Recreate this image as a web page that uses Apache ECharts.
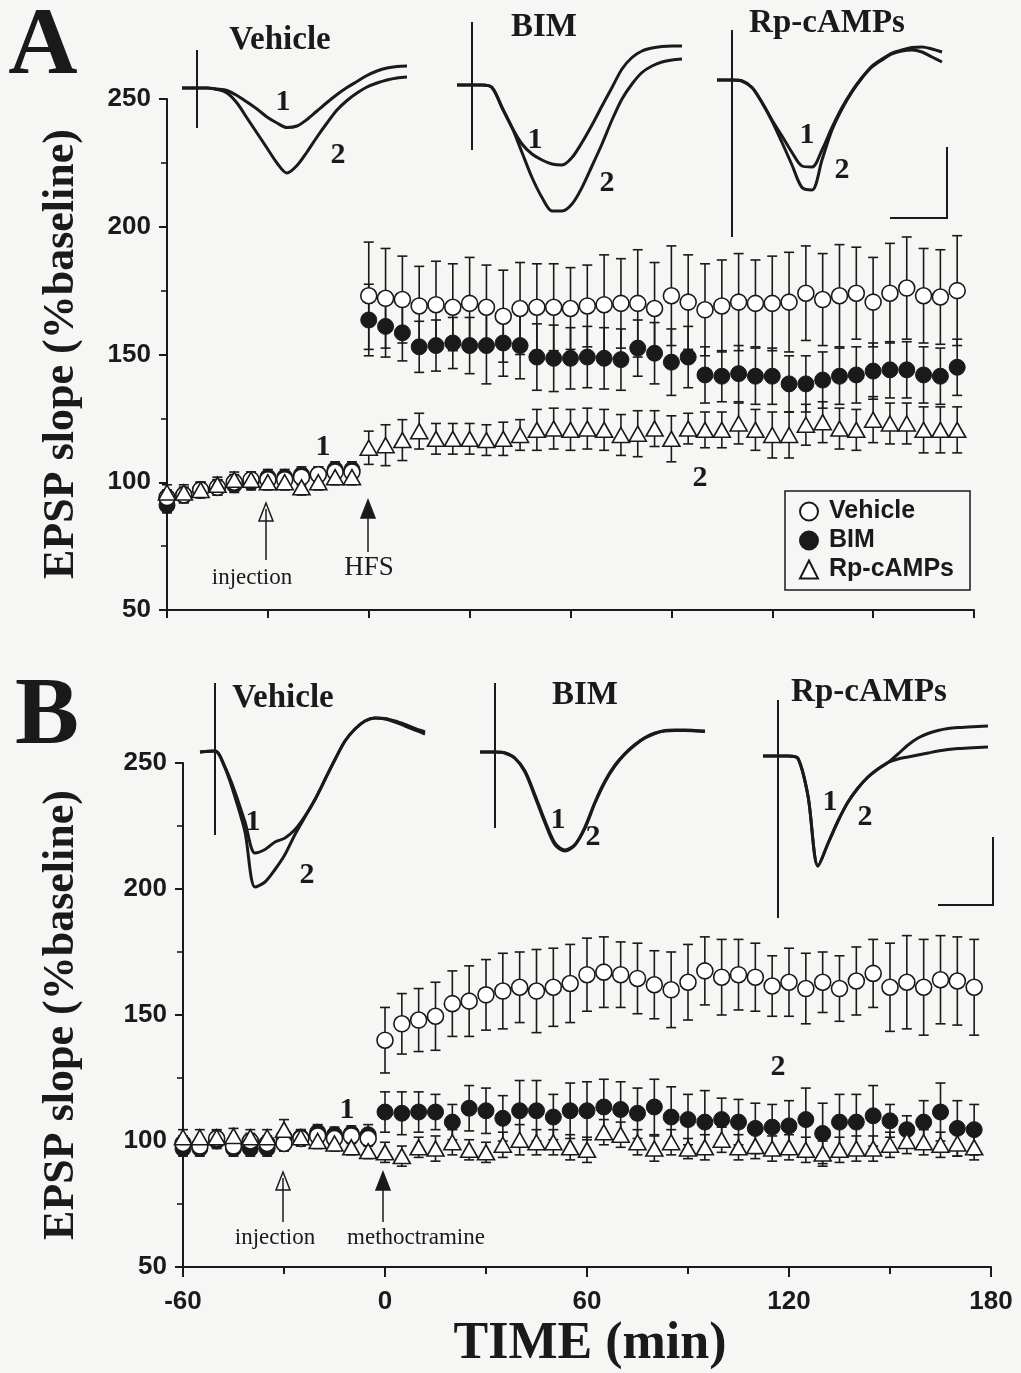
<!DOCTYPE html>
<html><head><meta charset="utf-8">
<script src="https://cdn.jsdelivr.net/npm/echarts@6/dist/echarts.min.js"></script>
<style>html,body{margin:0;padding:0;background:#f6f6f4}#c{width:1021px;height:1373px}</style>
</head><body><div id="c"></div>
<script>
// ---------- DATA ----------
const times = [-60,-55,-50,-45,-40,-35,-30,-25,-20,-15,-10,-5,0,5,10,15,20,25,30,35,40,45,50,55,60,65,70,75,80,85,90,95,100,105,110,115,120,125,130,135,140,145,150,155,160,165,170,175];
const seriesNames = ['Vehicle','BIM','Rp-cAMPs'];
const xTickLabels = [-60, 0, 60, 120, 180];
const yTickLabels = [50, 100, 150, 200, 250];

// Panel A (HFS)
const vehA = [94,95,97,98,100,101,101,101,102,103,104,104, 173,172,171.5,169,169.5,168.5,170,168.5,165,168,168.5,168.5,168,169,169.5,170,170,168,173,170.5,167.5,169,170.5,170,170,170.5,174,171.5,173,174,170.5,174,176,173,172.5,175];
const vehAErr = [3,3,3,3,3,3,3,3,3,3,3,3, 21,19.5,17,15.5,17,17,18,16.5,18,18,17,17,16,16,19.5,17.5,21,18,19.5,18.5,18,18,19,17,18.5,19.5,18.5,18,20,18,17.5,19.5,20,18.5,18.5,21.5];
const bimA = [91,95,97,98,99,100,102,102,103,103,105,105, 163.5,161,158.5,153,153.5,154.5,153.5,153.5,154.5,153.5,149,148.5,148.5,149,148.5,148,152.5,150.5,147,149,142,141.5,142.5,141.5,141.5,138.5,138.5,140,141.5,142,143.5,144,144,142,141.5,145];
const bimAErr = [3,3,3,3,3,3,3,3,3,3,3,3, 14,12,11,10,10,10,11,15,13,13,13,13,12,12,12,12,11,12,13,12,11,10,11,11,11,11,11,11,11,11,11,11,11,11,11,11];
const rpA = [96,96,97,99,101,101,100,100,98,100,102,102, 113.5,114.5,116.5,120,117,117,117,116.5,117,118.5,120.5,121,120.5,121,120.5,118.5,119,121,117,121,120.5,120.5,123,120.5,118.5,118.5,122.5,123.5,121,120.5,124.5,123,123,120.5,120.5,120.5];
const rpAErr = [3,3,3,3,3,3,3,3,3,3,3,3, 6.5,8,8,7,6,6,6,6,6.5,6,8,8,8,8,8,8,9,7,9,6,7,7,8,8,9,9,8,8,8,8,9,8,8,9,9,9];

// Panel B (methoctramine)
const vehB = [99,98,101,98,100,99,99,101,102,101,102,101, 140,146.5,148,149.5,154.5,155.5,158,159.5,161,159.5,161,162.5,166,167,166,164.5,162,160,163,167.5,165,166,165,161.5,163,160.5,163,160.5,163.5,166.5,161,163,161,164,163.5,161];
const vehBErr = [3,3,3,3,3,3,3,3,3,3,3,3, 13,12,12.5,13.5,13,14,14,15,14,16.5,15.5,15.5,14.5,14,13,14,13.5,15,15,13.5,15,14,13.5,12,13.5,14,12,13,13.5,13.5,17.5,18.5,19,17.5,17.5,19];
const bimB = [97,97,100,97,97,97,101.5,101.5,103.5,102.5,103,102.5, 111.5,111,111.5,111.5,107.5,113,112,109,112,112,109.5,112,112,113.5,112.5,111,113.5,109.5,108.5,107.5,108.5,107.5,105,105.5,106,108.5,103,107.5,107.5,110,108,104.5,107.5,111.5,105,104.5];
const bimBErr = [3,3,3,3,3,3,3,3,3,3,3,4, 8,8.5,8,7,7,9,9,9,12,12,9,11,11.5,11,11,10,11,12,10,12.5,8.5,9,10,9,10,12.5,12,11,11,12,6.5,5.5,8.5,11.5,11,10];
const rpB = [101.5,101.5,101.5,102,101.5,101.5,104.5,101.5,100,99,97.5,96, 95.5,94,97.5,97,99.5,96.5,95.5,98.5,100.5,99.5,99.5,97.5,96.5,103.5,102.5,99.5,97,99.5,97,97.5,100.5,97.5,98,97,97.5,96.5,95,96.5,97,97,98.5,100,99.5,98.5,99,97.5];
const rpBErr = [3,3,3,3,3,3,4,3,3,3,3,3, 4,4,4,5,5,4,4,5,6,5, 5,5,5,5,5,5,5,5,4,5, 5,5,5,5,5,5,5,5,5,5, 5,5,5,5,5,5];

// Inset EPSP traces (ms, mV; 1 = before, 2 = after)
const traceT = [-1.5,0,1,2,3,4,5,6,7,8,9,10,11,12,13,14,15,16,17,18,19,20,21];
const aVeh1 = [0,0,0,-0.02,-0.05,-0.15,-0.28,-0.42,-0.58,-0.7,-0.79,-0.76,-0.63,-0.46,-0.29,-0.13,0.01,0.13,0.25,0.34,0.4,0.43,0.44];
const aVeh2 = [0,0,0,-0.03,-0.1,-0.3,-0.6,-0.9,-1.2,-1.5,-1.7,-1.55,-1.28,-0.98,-0.7,-0.44,-0.25,-0.1,0.02,0.1,0.16,0.2,0.22];
const aBim1 = [0,0,0,-0.05,-0.45,-0.85,-1.18,-1.38,-1.5,-1.58,-1.6,-1.45,-1.15,-0.8,-0.42,-0.05,0.32,0.55,0.68,0.74,0.77,0.78,0.78];
const aBim2 = [0,0,0,-0.05,-0.45,-0.85,-1.35,-1.85,-2.25,-2.52,-2.52,-2.38,-2.05,-1.62,-1.18,-0.7,-0.28,0.02,0.25,0.38,0.46,0.5,0.52];
const aRp1 = [0,0,-0.02,-0.15,-0.45,-0.8,-1.12,-1.45,-1.72,-1.74,-1.4,-0.95,-0.55,-0.22,0.05,0.28,0.42,0.54,0.6,0.65,0.66,0.62,0.56];
const aRp2 = [0,0,-0.02,-0.15,-0.45,-0.82,-1.25,-1.7,-2.15,-2.2,-1.6,-1.0,-0.58,-0.24,0.04,0.26,0.4,0.52,0.58,0.6,0.56,0.46,0.36];
const bVeh1 = [0,0.02,-0.3,-0.8,-1.4,-2.02,-1.95,-1.8,-1.72,-1.55,-1.28,-0.95,-0.55,-0.15,0.22,0.46,0.62,0.68,0.66,0.6,0.52,0.44,0.36];
const bVeh2 = [0,0.02,-0.32,-0.9,-1.6,-2.7,-2.6,-2.35,-2.05,-1.65,-1.3,-0.95,-0.55,-0.15,0.22,0.46,0.62,0.68,0.67,0.62,0.55,0.47,0.4];
const bBim1 = [0,0,-0.02,-0.12,-0.38,-0.86,-1.38,-1.82,-1.96,-1.85,-1.52,-1.02,-0.6,-0.28,-0.04,0.14,0.28,0.37,0.43,0.44,0.44,0.43,0.42];
const bBim2 = [0,0,-0.02,-0.13,-0.4,-0.9,-1.42,-1.86,-1.98,-1.86,-1.5,-1.0,-0.58,-0.26,-0.03,0.15,0.29,0.38,0.42,0.43,0.43,0.42,0.41];
const bRp1 = [0,0,0,-0.05,-0.8,-2.2,-1.75,-1.3,-0.92,-0.64,-0.42,-0.26,-0.13,0.04,0.22,0.36,0.45,0.51,0.55,0.57,0.58,0.59,0.6];
const bRp2 = [0,0,0,-0.05,-0.8,-2.2,-1.75,-1.3,-0.92,-0.64,-0.42,-0.26,-0.13,-0.06,-0.02,0.02,0.06,0.1,0.13,0.15,0.16,0.17,0.18];
const artifactTop = [0.76,1.26,1.0,1.38,1.38,1.12];
const artifactBottom = [-0.8,-1.3,-3.14,-1.66,-1.52,-3.24];

// ---------- STYLE / LAYOUT ----------
const INK = '#1a1a1a', BG = '#f6f6f4';
const SERIF = '"Liberation Serif","Times New Roman",serif';
const SANS = '"Liberation Sans",Arial,sans-serif';
const insetOrigins = [[197,88],[472,85],[732,80],[215,752],[495,752],[778,756]];

const chart = echarts.init(document.getElementById('c'), null, {renderer:'canvas'});

const grids = [
  {left:167, right:47, top:99, height:511},
  {left:183, right:30, top:763, height:504}
];
insetOrigins.forEach(o => grids.push({left:o[0]-20, top:o[1]-80, width:250, height:250}));

const tickFont = {fontFamily:SANS, fontWeight:'bold', fontSize:26, color:INK};
const xAxes = [
  {gridIndex:0, type:'value', min:-60, max:180, interval:30,
   axisLine:{onZero:false, lineStyle:{color:INK,width:2}}, axisTick:{length:8,lineStyle:{color:INK,width:2}},
   axisLabel:{show:false}, splitLine:{show:false}},
  {gridIndex:1, type:'value', min:-60, max:180, interval:60,
   axisLine:{onZero:false, lineStyle:{color:INK,width:2}}, axisTick:{length:10,lineStyle:{color:INK,width:2}},
   minorTick:{show:true, splitNumber:2, length:7, lineStyle:{color:INK,width:2}},
   axisLabel:Object.assign({margin:22, formatter:v => xTickLabels.includes(v) ? String(v) : ''}, tickFont),
   splitLine:{show:false}}
];
const yAxes = [0,1].map(g => ({gridIndex:g, type:'value', min:50, max:250, interval:50,
   axisLine:{onZero:false, lineStyle:{color:INK,width:2}}, axisTick:{length:8,lineStyle:{color:INK,width:2}},
   minorTick:{show:true, splitNumber:2, length:6, lineStyle:{color:INK,width:1.6}},
   axisLabel:Object.assign({margin:16, formatter:v => yTickLabels.includes(v) ? String(v) : ''}, tickFont),
   splitLine:{show:false}}));
for (let i=0;i<6;i++){
  xAxes.push({gridIndex:i+2, type:'value', min:-2, max:23, show:false});
  yAxes.push({gridIndex:i+2, type:'value', min:-3.4, max:1.6, show:false});
}

function errSeries(ax, vals, errs){
  return {type:'custom', xAxisIndex:ax, yAxisIndex:ax, z:1, silent:true,
    data: times.map((t,i)=>[t, vals[i], errs[i]]), encode:{x:0,y:1},
    renderItem:(p, api)=>{
      const x=api.value(0), y=api.value(1), e=api.value(2);
      const a=api.coord([x,y+e]), b=api.coord([x,y-e]); const hw=5;
      const st={stroke:INK, lineWidth:1.6};
      return {type:'group', children:[
        {type:'line', shape:{x1:a[0],y1:a[1],x2:b[0],y2:b[1]}, style:st},
        {type:'line', shape:{x1:a[0]-hw,y1:a[1],x2:a[0]+hw,y2:a[1]}, style:st},
        {type:'line', shape:{x1:b[0]-hw,y1:b[1],x2:b[0]+hw,y2:b[1]}, style:st}
      ]};
    }};
}
const markerStyle = {
  'Vehicle': {symbol:'circle', symbolSize:16, itemStyle:{color:'#ffffff', borderColor:INK, borderWidth:1.6, opacity:1}, z:3},
  'BIM': {symbol:'circle', symbolSize:16, itemStyle:{color:INK, borderColor:INK, borderWidth:1, opacity:1}, z:2},
  'Rp-cAMPs': {symbol:'triangle', symbolSize:[17,15], itemStyle:{color:'#ffffff', borderColor:INK, borderWidth:1.6, opacity:1}, z:4}
};
function markSeries(name, ax, vals){
  return Object.assign({type:'scatter', name, xAxisIndex:ax, yAxisIndex:ax, silent:true,
    data: times.map((t,i)=>[t, vals[i]])}, markerStyle[name]);
}
const series = [];
[[vehA,vehAErr,bimA,bimAErr,rpA,rpAErr],[vehB,vehBErr,bimB,bimBErr,rpB,rpBErr]].forEach((d,ax)=>{
  series.push(errSeries(ax,d[0],d[1]), errSeries(ax,d[2],d[3]), errSeries(ax,d[4],d[5]));
  series.push(markSeries('Vehicle',ax,d[0]), markSeries('BIM',ax,d[2]), markSeries('Rp-cAMPs',ax,d[4]));
});
const traces = [[aVeh1,aVeh2],[aBim1,aBim2],[aRp1,aRp2],[bVeh1,bVeh2],[bBim1,bBim2],[bRp1,bRp2]];
traces.forEach((pair,i)=>{
  const ax=i+2;
  pair.forEach(tr => series.push({type:'line', xAxisIndex:ax, yAxisIndex:ax, silent:true, showSymbol:false,
    smooth:0.3, lineStyle:{color:INK, width:3}, data: traceT.map((t,k)=>[t, tr[k]])}));
  series.push({type:'line', xAxisIndex:ax, yAxisIndex:ax, silent:true, showSymbol:false,
    lineStyle:{color:INK, width:2}, data:[[0, artifactTop[i]],[0, artifactBottom[i]]]});
});

// ---------- GRAPHIC ANNOTATIONS ----------
const G = [];
function txt(text, x, y, font, opts){ G.push(Object.assign({type:'text', x, y, z:100, silent:true,
  style:{text, font, fill:INK, align:'center', verticalAlign:'middle'}}, opts||{})); }
function arrow(x, tip, tail, filled){
  G.push({type:'polygon', z:100, silent:true, shape:{points:[[x,tip],[x-7,tip+18],[x+7,tip+18]]},
    style:{fill: filled?INK:BG, stroke:INK, lineWidth:1.5}});
  G.push({type:'line', z:101, silent:true, shape:{x1:x,y1:tail,x2:x,y2:tip+(filled?12:6)}, style:{stroke:INK,lineWidth:1.5}});
}
txt('A', 43, 48, 'bold 96px '+SERIF);
txt('B', 47, 718, 'bold 96px '+SERIF);
txt('EPSP slope (%baseline)', 62, 354, 'bold 44px '+SERIF, {rotation:Math.PI/2});
txt('EPSP slope (%baseline)', 62, 1015, 'bold 44px '+SERIF, {rotation:Math.PI/2});
txt('TIME (min)', 590, 1345, 'bold 52px '+SERIF);
// inset titles
const titleFont = 'bold 33px '+SERIF;
[[280,40],[544,27],[827,23],[283,698],[585,695],[869,692]].forEach((p,i)=>txt(seriesNames[i%3], p[0], p[1], titleFont));
// inset 1/2 labels
const numFont = 'bold 30px '+SERIF;
[[283,102,338,155],[535,140,607,183],[807,135,842,170],[253,822,307,875],[558,820,593,837],[830,802,865,817]]
  .forEach(p=>{ txt('1',p[0],p[1],numFont); txt('2',p[2],p[3],numFont); });
// scale bars
G.push({type:'polyline', z:100, silent:true, shape:{points:[[890,218],[947,218],[947,147]]}, style:{stroke:INK,lineWidth:2,fill:null}});
G.push({type:'polyline', z:100, silent:true, shape:{points:[[938,905],[993,905],[993,837]]}, style:{stroke:INK,lineWidth:2,fill:null}});
// main annotations
txt('1', 323, 447, 'bold 30px '+SERIF);
txt('2', 700, 478, 'bold 30px '+SERIF);
txt('1', 347, 1110, 'bold 30px '+SERIF);
txt('2', 778, 1067, 'bold 30px '+SERIF);
arrow(266, 503, 560, false); arrow(368, 500, 552, true);
txt('injection', 252, 578, '23px '+SERIF);
txt('HFS', 369, 568, '27px '+SERIF);
arrow(283, 1172, 1222, false); arrow(383, 1172, 1222, true);
txt('injection', 275, 1238, '23px '+SERIF);
txt('methoctramine', 416, 1238, '23px '+SERIF);

chart.setOption({
  backgroundColor: BG,
  animation:false,
  grid: grids, xAxis: xAxes, yAxis: yAxes, series,
  legend: {show:true, left:785, top:491, orient:'vertical', selectedMode:false,
    data: seriesNames.map(n=>({name:n, icon: markerStyle[n].symbol})),
    itemWidth:18, itemHeight:18, itemGap:4, padding:[8,16,8,14],
    borderColor:INK, borderWidth:1.5, backgroundColor:BG,
    textStyle:{fontFamily:SANS, fontWeight:'bold', fontSize:25, color:INK, padding:[0,0,0,6]}},
  graphic: G
});
</script></body></html>
